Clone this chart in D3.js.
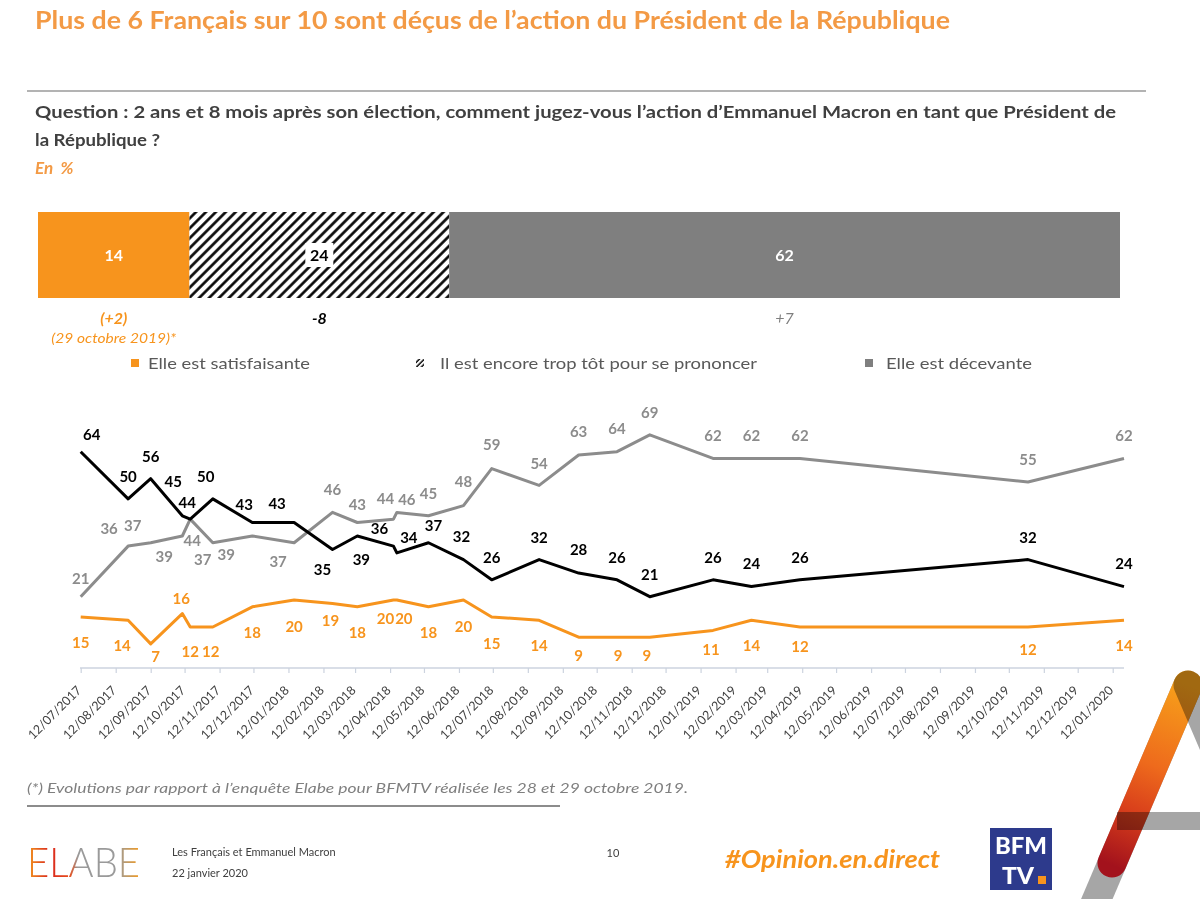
<!DOCTYPE html>
<html><head><meta charset="utf-8">
<script src="https://cdn.jsdelivr.net/npm/d3@7"></script>
<style>
html,body{margin:0;padding:0;background:#fff;}
svg{display:block;}
</style></head>
<body>
<svg id="chart" width="1200" height="899"></svg>
<script>
// ---------------- DATA ----------------
const surveyDates = ["2017-07-12","2017-08-23","2017-09-12","2017-10-10","2017-10-17","2017-11-06","2017-12-11","2018-01-17","2018-02-20","2018-03-14","2018-04-15","2018-04-18","2018-05-16","2018-06-16","2018-07-11","2018-08-22","2018-09-26","2018-10-30","2018-11-28","2019-01-23","2019-02-26","2019-04-10","2019-10-29","2020-01-22"];
const satisfaisante = [15,14,7,16,12,12,18,20,19,18,20,20,18,20,15,14,9,9,9,11,14,12,12,14];
const tropTot       = [64,50,56,45,44,50,43,43,35,39,36,34,37,32,26,32,28,26,21,26,24,26,32,24];
const decevante     = [21,36,37,39,44,37,39,37,46,43,44,46,45,48,59,54,63,64,69,62,62,62,55,62];
const tickLabels = ["12/07/2017","12/08/2017","12/09/2017","12/10/2017","12/11/2017","12/12/2017","12/01/2018","12/02/2018","12/03/2018","12/04/2018","12/05/2018","12/06/2018","12/07/2018","12/08/2018","12/09/2018","12/10/2018","12/11/2018","12/12/2018","12/01/2019","12/02/2019","12/03/2019","12/04/2019","12/05/2019","12/06/2019","12/07/2019","12/08/2019","12/09/2019","12/10/2019","12/11/2019","12/12/2019","12/01/2020"];
const barCategories = ["Elle est satisfaisante","Il est encore trop tôt pour se prononcer","Elle est décevante"];
const barValues = [14,24,62];
const barEvolutions = ["(+2)","-8","+7"];

// label placement (style): offsets of each data label from its point
const offTrop = [[11,-17],[0,-22],[0,-22],[-9,-34],[-3,-16],[-7,-22],[-8,-17.5],[-17,-19],[-10,20.5],[4,24],[-14,-17],[12,-15.5],[5,-17],[-2,-23],[0,-22.5],[0,-22],[0,-23],[0,-22.5],[0,-22],[0,-22.5],[0,-23],[0,-22.5],[0,-22],[0,-23]];
const offDec = [[0,-18.4],[-19,-17],[-18,-17],[-18,20.7],[2,21.6],[-10,17],[-26,19],[-16,19],[0,-23],[0,-17.5],[-8,-20],[10,-13],[0,-22],[0,-24],[0,-23.5],[0,-22],[0,-23.5],[0,-23],[0,-22.5],[0,-23],[0,-23],[0,-23],[0,-22],[0,-23]];
const offSat = [[0,26],[-6,25],[5,13],[-1,-15],[0,25],[-2,25],[0,26],[0,27],[-2,17],[0,26],[-8,19],[7,19],[0,26],[0,26.6],[0,26.4],[0,25.4],[0,19],[1,19],[-3,19],[-2,19],[0,25],[0,20],[0,23],[0,25]];

// ---------------- STYLE ----------------
const FONT = "Lato, 'Open Sans', sans-serif";
const ORANGE = "#f7941d", ORANGE_T = "#f39a45", GREY_BAR = "#7f7f7f", GREY_LINE = "#8c8c8c", DARK = "#404040";

const svg = d3.select("#chart").style("font-family", FONT);
const defs = svg.append("defs");

// hatch pattern
const pat = defs.append("pattern").attr("id","hatch").attr("patternUnits","userSpaceOnUse")
  .attr("width",7).attr("height",10).attr("patternTransform","rotate(45)");
pat.append("rect").attr("width",7).attr("height",10).attr("fill","#fff");
pat.append("line").attr("x1",1.5).attr("x2",1.5).attr("y1",0).attr("y2",10).attr("stroke","#000").attr("stroke-width",2.6);

const patS = defs.append("pattern").attr("id","hatchSmall").attr("patternUnits","userSpaceOnUse")
  .attr("width",3.5).attr("height",6).attr("patternTransform","rotate(45)");
patS.append("rect").attr("width",3.5).attr("height",6).attr("fill","#fff");
patS.append("line").attr("x1",1).attr("x2",1).attr("y1",0).attr("y2",6).attr("stroke","#000").attr("stroke-width",1.4);

// ---------------- HEADER ----------------
svg.append("text").attr("x",35).attr("y",29).attr("font-size",24).attr("font-weight",700)
  .attr("fill",ORANGE_T).attr("textLength",915).attr("lengthAdjust","spacingAndGlyphs")
  .text("Plus de 6 Français sur 10 sont déçus de l’action du Président de la République");
svg.append("line").attr("x1",27).attr("x2",1146).attr("y1",91).attr("y2",91).attr("stroke","#b3b3b3").attr("stroke-width",2);
svg.append("text").attr("x",35).attr("y",118).attr("font-size",17).attr("font-weight",700).attr("fill",DARK)
  .attr("textLength",1081).attr("lengthAdjust","spacingAndGlyphs")
  .text("Question : 2 ans et 8 mois après son élection, comment jugez-vous l’action d’Emmanuel Macron en tant que Président de");
svg.append("text").attr("x",35).attr("y",146).attr("font-size",17).attr("font-weight",700).attr("fill",DARK)
  .attr("textLength",125).attr("lengthAdjust","spacingAndGlyphs").text("la République ?");
svg.append("text").attr("x",35).attr("y",174).attr("font-size",17).attr("font-weight",700).attr("font-style","italic")
  .attr("fill",ORANGE_T).attr("xml:space","preserve").text("En  %");

// ---------------- STACKED BAR ----------------
const bx = d3.scaleLinear().domain([0,100]).range([38,1120]);
const barFills = [ORANGE, "url(#hatch)", GREY_BAR];
const barTop = 212, barH = 86;
let cum = 0;
const segs = barValues.map((v,i)=>{ const s = {i, v, x0: cum, x1: cum+v}; cum += v; return s; });
svg.append("g").selectAll("rect").data(segs).join("rect")
  .attr("x",d=>bx(d.x0)).attr("width",d=>bx(d.x1)-bx(d.x0))
  .attr("y",barTop).attr("height",barH).attr("fill",d=>barFills[d.i]);
segs.forEach(d=>{
  const cx = (bx(d.x0)+bx(d.x1))/2, cy = barTop+barH/2;
  if(d.i===1){
    svg.append("rect").attr("x",cx-14).attr("y",cy-12).attr("width",28).attr("height",24).attr("fill","#fff");
  }
  svg.append("text").attr("x",cx).attr("y",cy).attr("dy","0.35em").attr("text-anchor","middle")
    .attr("font-size",16).attr("font-weight",700).attr("fill", d.i===1 ? "#000" : "#fff").text(d.v);
  const ev = svg.append("text").attr("x",cx).attr("y",318).attr("dy","0.35em").attr("text-anchor","middle")
    .attr("font-size",16).attr("font-style","italic").text(barEvolutions[d.i]);
  if(d.i===0) ev.attr("fill",ORANGE).attr("font-weight",700);
  if(d.i===1) ev.attr("fill","#000").attr("font-weight",700);
  if(d.i===2) ev.attr("fill","#7f7f7f");
  if(d.i===0){
    svg.append("text").attr("x",cx).attr("y",338).attr("dy","0.35em").attr("text-anchor","middle")
      .attr("font-size",13.5).attr("font-style","italic").attr("fill",ORANGE)
      .attr("textLength",125).attr("lengthAdjust","spacingAndGlyphs").text("(29 octobre 2019)*");
  }
});
// legend
const legX = [131, 416, 865], legTxtX = [148, 440, 886], legW = [162, 317, 146];
barCategories.forEach((c,i)=>{
  svg.append("rect").attr("x",legX[i]).attr("y",359).attr("width",8).attr("height",8)
    .attr("fill", i===1 ? "url(#hatchSmall)" : (i===0 ? ORANGE : GREY_BAR));
  svg.append("text").attr("x",legTxtX[i]).attr("y",363).attr("dy","0.35em").attr("font-size",16)
    .attr("fill","#595959").attr("textLength",legW[i]).attr("lengthAdjust","spacingAndGlyphs").text(c);
});

// ---------------- LINE CHART ----------------
const parseD = d3.utcParse("%Y-%m-%d");
const parseTick = d3.utcParse("%d/%m/%Y");
const dates = surveyDates.map(parseD);
const x = d3.scaleUtc().domain([dates[0], dates[dates.length-1]]).range([80.7, 1124]);
const y = d3.scaleLinear().domain([0,100]).range([667.5, 330.3]);

const axisG = svg.append("g").attr("transform","translate(0,668)");
const xAxis = d3.axisBottom(x).tickValues(tickLabels.map(parseTick)).tickSize(5).tickFormat((d,i)=>tickLabels[i]);
axisG.call(xAxis);
axisG.select(".domain").attr("stroke","#ccd3df").attr("stroke-width",1.3).attr("d","M80,0H1124");
axisG.selectAll(".tick line").attr("stroke","#ccd3df").attr("stroke-width",1.2);
axisG.selectAll(".tick text").attr("font-family",FONT).attr("font-size",12.5).attr("fill","#404040")
  .attr("text-anchor","end").attr("x",0).attr("y",0).attr("dy",0)
  .attr("transform","translate(1,23) rotate(-45)");

const series = [
  {vals: decevante, color: GREY_LINE, lab: "#8c8c8c", off: offDec, weight: 700},
  {vals: tropTot, color: "#000", lab: "#000", off: offTrop, weight: 700},
  {vals: satisfaisante, color: ORANGE, lab: ORANGE, off: offSat, weight: 700}
];
const line = d3.line().x((d,i)=>x(dates[i])).y(d=>y(d));
series.forEach(s=>{
  svg.append("path").datum(s.vals).attr("d",line).attr("fill","none")
    .attr("stroke",s.color).attr("stroke-width",3).attr("stroke-linejoin","round");
});
series.forEach(s=>{
  svg.append("g").selectAll("text").data(s.vals).join("text")
    .attr("x",(d,i)=>x(dates[i])+s.off[i][0]).attr("y",(d,i)=>y(d)+s.off[i][1])
    .attr("dy","0.35em").attr("text-anchor","middle").attr("font-size",15).attr("font-weight",s.weight)
    .attr("fill",s.lab).text(d=>d);
});

// ---------------- FOOTER ----------------
svg.append("text").attr("x",27).attr("y",788).attr("dy","0.35em").attr("font-size",14).attr("font-style","italic")
  .attr("fill","#7f7f7f").attr("textLength",661).attr("lengthAdjust","spacingAndGlyphs")
  .text("(*) Evolutions par rapport à l’enquête Elabe pour BFMTV réalisée les 28 et 29 octobre 2019.");
svg.append("line").attr("x1",27).attr("x2",560).attr("y1",806).attr("y2",806).attr("stroke","#8c8c8c").attr("stroke-width",2);

const lg = defs.append("linearGradient").attr("id","elabe").attr("x1","0").attr("x2","1").attr("y1","0").attr("y2","0");
[["0%","#f39a1e"],["20%","#d9261c"],["38%","#e8501e"],["45%","#9a9a9a"],["80%","#9a9a9a"],["100%","#f39a1e"]]
  .forEach(([o,c])=>lg.append("stop").attr("offset",o).attr("stop-color",c));
svg.append("text").attr("x",27).attr("y",877).attr("font-size",42).attr("font-weight",300)
  .attr("fill","url(#elabe)").attr("textLength",113).attr("lengthAdjust","spacingAndGlyphs").text("ELABE");
svg.append("text").attr("x",172).attr("y",856).attr("font-size",11).attr("fill",DARK).text("Les Français et Emmanuel Macron");
svg.append("text").attr("x",172).attr("y",877).attr("font-size",11).attr("fill",DARK).text("22 janvier 2020");
svg.append("text").attr("x",613).attr("y",857).attr("text-anchor","middle").attr("font-size",11).attr("fill",DARK).text("10");
svg.append("text").attr("x",725).attr("y",868).attr("font-size",25).attr("font-weight",700).attr("font-style","italic")
  .attr("fill",ORANGE).attr("textLength",215).attr("lengthAdjust","spacingAndGlyphs").text("#Opinion.en.direct");

// BFM TV logo
svg.append("rect").attr("x",990).attr("y",828).attr("width",62).attr("height",62).attr("fill","#2d3a8c");
svg.append("text").attr("x",1021).attr("y",854).attr("text-anchor","middle").attr("font-size",23).attr("font-weight",900)
  .attr("fill","#fff").attr("textLength",52).attr("lengthAdjust","spacingAndGlyphs").text("BFM");
svg.append("text").attr("x",1018).attr("y",884).attr("text-anchor","middle").attr("font-size",23).attr("font-weight",900)
  .attr("fill","#fff").attr("textLength",32).attr("lengthAdjust","spacingAndGlyphs").text("TV");
svg.append("rect").attr("x",1038).attr("y",876).attr("width",8).attr("height",8).attr("fill",ORANGE);

// big "A" corner mark
const ag = defs.append("linearGradient").attr("id","aGrad").attr("gradientUnits","userSpaceOnUse")
  .attr("x1",1188).attr("y1",685).attr("x2",1112).attr("y2",865);
[["0%","#f7a11a"],["45%","#ee6a1c"],["70%","#d9401b"],["100%","#a3121c"]].forEach(([o,c])=>ag.append("stop").attr("offset",o).attr("stop-color",c));
const aG = svg.append("g");
aG.append("line").attr("x1",1188).attr("y1",685).attr("x2",1070).attr("y2",962).attr("stroke","#a6a6a6").attr("stroke-width",29);
aG.append("line").attr("x1",1188).attr("y1",685).attr("x2",1112).attr("y2",863).attr("stroke","url(#aGrad)")
  .attr("stroke-width",29).attr("stroke-linecap","round");
aG.append("line").attr("x1",1188).attr("y1",685).attr("x2",1250).attr("y2",830).attr("stroke","#a6a6a6")
  .attr("stroke-width",29).attr("stroke-linecap","round").style("mix-blend-mode","multiply");
aG.append("rect").attr("x",1117).attr("y",812).attr("width",90).attr("height",18).attr("fill","#a6a6a6").style("mix-blend-mode","multiply");
</script>
</body></html>
